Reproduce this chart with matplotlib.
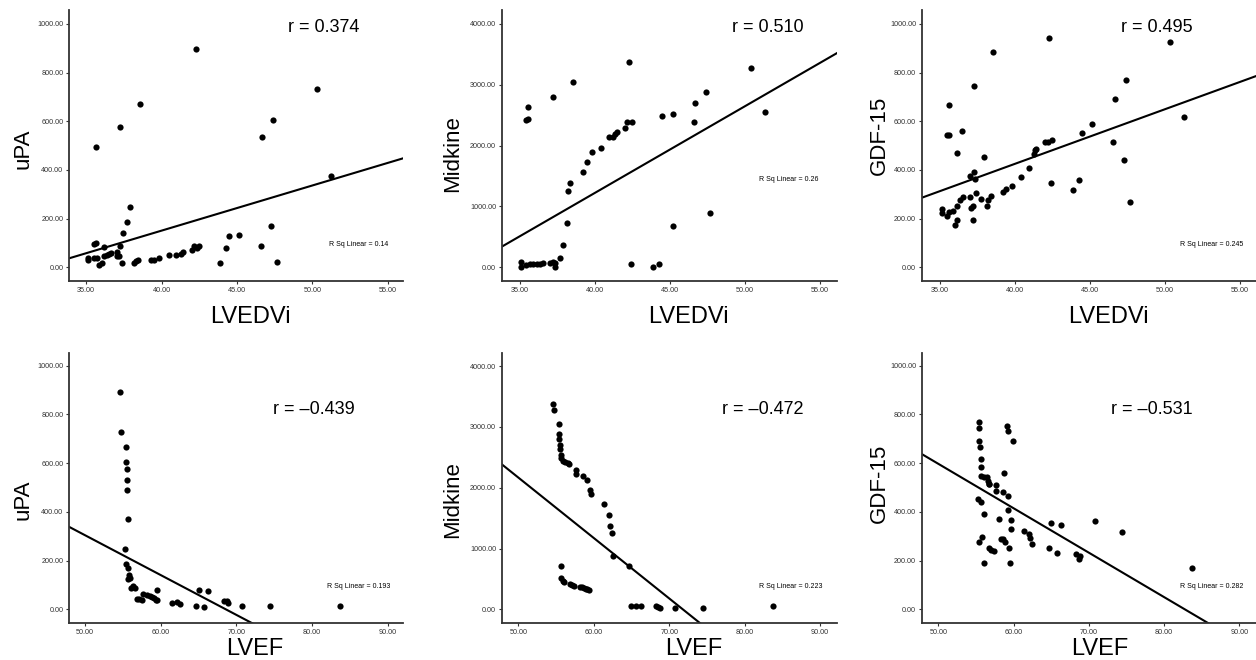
import numpy as np
import matplotlib
matplotlib.use("Agg")
import matplotlib.pyplot as plt
from matplotlib.ticker import FormatStrFormatter

plt.rcParams['font.family'] = ['Liberation Sans', 'DejaVu Sans']

# ---------------- data ----------------
upa_lvedvi_x = [35.64, 35.53, 35.66, 35.15, 35.15, 35.55, 35.70, 35.86, 36.06, 36.19, 36.19, 36.37,
                36.55, 36.68, 37.03, 37.07, 37.20, 37.25, 37.27, 37.38, 37.45, 37.72, 37.94, 38.18,
                38.29, 38.42, 38.55, 39.28, 39.48, 39.86, 40.47, 40.96, 41.29, 41.45, 42.02, 42.17,
                42.37, 42.48, 42.31, 43.87, 44.29, 44.47, 45.15, 46.57, 46.66, 47.27, 47.38, 47.65,
                50.32, 51.25]
upa_lvedvi_y = [494, 95, 99, 40, 30, 40, 40, 10, 16, 82, 47, 49,
                53, 59, 62, 45, 45, 88, 578, 19, 141, 188, 248, 19,
                26, 30, 670, 30, 30, 40, 49, 49, 55, 62, 70, 89,
                81, 89, 897, 18, 81, 127, 132, 88, 534, 171, 604, 23,
                733, 375]

mk_lvedvi_x = [35.56, 35.40, 35.56, 35.07, 35.07, 35.40, 35.67, 35.89, 36.11, 36.33, 36.56, 37.00,
               37.18, 37.33, 37.33, 37.67, 37.89, 38.11, 37.22, 38.51, 38.20, 38.36, 39.22, 39.44,
               39.80, 40.42, 40.91, 41.18, 41.31, 41.44, 42.00, 42.16, 42.49, 42.27, 42.38, 43.89,
               44.27, 44.47, 45.18, 45.18, 46.56, 46.67, 47.40, 47.67, 50.36, 51.29]
mk_lvedvi_y = [2641, 2416, 2433, 88, 11, 33, 49, 55, 60, 60, 71, 66,
               88, 66, 11, 159, 367, 723, 2805, 3046, 1260, 1381, 1562, 1726,
               1901, 1956, 2137, 2137, 2192, 2230, 2290, 2394, 2394, 3375, 49, 11,
               49, 2482, 2521, 679, 2394, 2696, 2882, 899, 3277, 2548]

gdf_lvedvi_x = [35.11, 35.11, 35.44, 35.60, 35.84, 35.44, 35.58, 35.58, 36.02, 36.11, 36.11, 36.16,
                36.33, 36.56, 36.44, 37.02, 37.02, 37.07, 37.22, 37.22, 37.24, 37.27, 37.33, 37.40,
                37.71, 37.91, 38.11, 38.22, 38.38, 38.51, 39.24, 39.42, 39.82, 40.44, 40.93, 41.27,
                41.36, 41.44, 42.04, 42.22, 42.49, 42.27, 42.38, 43.89, 44.27, 44.47, 45.18, 46.58,
                46.67, 47.29, 47.40, 47.67, 50.36, 51.29]
gdf_lvedvi_y = [240, 222, 210, 229, 232, 544, 544, 668, 173, 193, 252, 468,
                275, 288, 560, 375, 290, 242, 251, 193, 745, 392, 364, 304,
                279, 452, 252, 275, 293, 884, 311, 321, 333, 371, 410, 467,
                482, 488, 514, 516, 523, 944, 348, 318, 358, 551, 589, 516,
                693, 441, 770, 270, 926, 619]

upa_lvef_x = [54.63, 54.76, 55.42, 55.42, 55.51, 55.51, 55.55, 55.73, 55.33, 55.46, 55.68, 55.86,
              55.95, 55.73, 56.08, 56.30, 56.61, 56.83, 57.18, 57.49, 57.71, 58.15, 58.59, 58.85,
              59.12, 59.34, 59.56, 59.47, 61.45, 62.20, 62.56, 64.71, 65.02, 65.73, 66.30, 68.33,
              68.72, 68.94, 70.79, 74.41, 83.66]
upa_lvef_y = [893, 730, 667, 603, 577, 532, 492, 371, 247, 185, 170, 141,
              127, 123, 86, 96, 86, 42, 41, 38, 64, 60, 56, 51,
              45, 38, 38, 79, 27, 29, 22, 16, 79, 10, 74, 36,
              36, 27, 16, 16, 16]

mk_lvef_x = [54.56, 54.69, 55.35, 55.40, 55.40, 55.49, 55.49, 55.62, 55.66, 55.93, 56.24, 56.55,
             56.73, 57.61, 57.65, 58.54, 59.16, 59.56, 59.65, 61.33, 62.04, 62.17, 62.39, 62.52,
             64.65, 55.71, 55.62, 55.93, 56.11, 56.81, 57.12, 57.39, 58.14, 58.45, 58.72, 58.94,
             59.16, 59.42, 64.91, 65.66, 66.28, 68.23, 68.54, 68.81, 70.80, 74.42, 83.72]
mk_lvef_y = [3375, 3271, 3041, 2882, 2805, 2701, 2636, 2537, 2493, 2444, 2422, 2400,
             2384, 2290, 2225, 2197, 2131, 1956, 1896, 1726, 1556, 1375, 1255, 882,
             718, 718, 510, 471, 444, 411, 400, 389, 373, 362, 351, 340,
             334, 318, 49, 49, 49, 49, 33, 16, 16, 16, 49]

gdf_lvef_x = [55.40, 55.44, 55.44, 55.49, 55.66, 55.66, 55.66, 56.11, 56.42, 56.59, 56.68, 56.77,
              55.31, 55.66, 56.02, 55.80, 55.44, 56.02, 56.68, 57.04, 57.39, 57.70, 57.70, 58.54,
              58.76, 58.10, 58.27, 58.58, 58.89, 59.16, 59.25, 59.20, 59.25, 59.34, 59.47, 59.60,
              59.69, 59.91, 61.37, 62.04, 62.17, 62.48, 64.69, 64.96, 65.71, 66.33, 68.23, 68.76,
              68.72, 70.80, 74.42, 83.72]
gdf_lvef_y = [770, 744, 693, 667, 618, 586, 549, 544, 544, 525, 515, 514,
              452, 440, 390, 299, 277, 190, 252, 244, 240, 511, 486, 481,
              559, 373, 290, 288, 277, 752, 734, 467, 408, 251, 192, 368,
              330, 692, 321, 311, 292, 270, 251, 355, 232, 345, 227, 221,
              207, 363, 316, 171]

# fitted regression lines (slope, intercept)
fit_slope = [18.56, 142.5, 22.39, -16.36, -99.4, -18.24]
fit_intercept = [-591.6, -4475.0, -470.5, 1122.7, 7137.0, 1509.6]

r_labels = ["r = 0.374", "r = 0.510", "r = 0.495", "r = \u20130.439", "r = \u20130.472", "r = \u20130.531"]
rsq_labels = ["R Sq Linear = 0.14", "R Sq Linear = 0.26", "R Sq Linear = 0.245",
              "R Sq Linear = 0.193", "R Sq Linear = 0.223", "R Sq Linear = 0.282"]
y_names = ["uPA", "Midkine", "GDF-15", "uPA", "Midkine", "GDF-15"]
x_names = ["LVEDVi", "LVEDVi", "LVEDVi", "LVEF", "LVEF", "LVEF"]
xs = [upa_lvedvi_x, mk_lvedvi_x, gdf_lvedvi_x, upa_lvef_x, mk_lvef_x, gdf_lvef_x]
ys = [upa_lvedvi_y, mk_lvedvi_y, gdf_lvedvi_y, upa_lvef_y, mk_lvef_y, gdf_lvef_y]
x_ticks_top = [35, 40, 45, 50, 55]
x_ticks_bot = [50, 60, 70, 80, 90]
y_ticks_small = [0, 200, 400, 600, 800, 1000]
y_ticks_big = [0, 1000, 2000, 3000, 4000]

# ---------------- layout ----------------
fig = plt.figure(figsize=(12.56, 6.6), dpi=100)
W, H = 1256, 660
axes_px = [  # left, right, top, bottom in pixels
    (69, 403, 10, 281), (501.7, 836.7, 10, 281), (921.7, 1256, 10, 281),
    (69, 403, 353.3, 623.3), (501.7, 836.7, 353.3, 623.3), (921.7, 1256, 353.3, 623.3)]
xlims = [(33.87, 56.0), (33.78, 56.1), (33.78, 56.1), (47.9, 92.0), (47.8, 92.2), (47.8, 92.2)]
ylims = [(-56, 1057), (-225, 4230), (-56, 1057), (-57, 1051), (-230, 4210), (-57, 1051)]
r_pos = [(0.763, 0.934), (0.795, 0.934), (0.704, 0.934), (0.733, 0.793), (0.778, 0.793), (0.689, 0.793)]
rsq_pos = [(0.868, 0.135), (0.858, 0.373), (0.867, 0.135), (0.868, 0.136), (0.864, 0.136), (0.867, 0.136)]
ylab_pos = [(-0.12, 0.487), (-0.13, 0.472), (-0.11, 0.539), (-0.12, 0.457), (-0.13, 0.46), (-0.11, 0.52)]
xlab_pos = [(0.542, -0.156), (0.556, -0.156), (0.558, -0.156), (0.557, -0.118), (0.573, -0.118), (0.533, -0.118)]

spine_col = "#333333"
for i in range(6):
    l, r, t, b = axes_px[i]
    ax = fig.add_axes([l / W, 1 - b / H, (r - l) / W, (b - t) / H])
    ax.set_xlim(*xlims[i])
    ax.set_ylim(*ylims[i])
    ax.scatter(xs[i], ys[i], s=20, color="black", linewidths=0, zorder=3)
    xl = np.array(xlims[i])
    ax.plot(xl, fit_slope[i] * xl + fit_intercept[i], color="black", lw=1.5, zorder=2)
    ax.set_xticks(x_ticks_top if i < 3 else x_ticks_bot)
    ax.set_yticks(y_ticks_big if i in (1, 4) else y_ticks_small)
    ax.xaxis.set_major_formatter(FormatStrFormatter("%.2f"))
    ax.yaxis.set_major_formatter(FormatStrFormatter("%.2f"))
    ax.tick_params(direction="out", length=2.5, width=0.8, labelsize=5.2, pad=1.5,
                   colors=spine_col)
    for s in ("top", "right"):
        ax.spines[s].set_visible(False)
    for s in ("left", "bottom"):
        ax.spines[s].set_color(spine_col)
        ax.spines[s].set_linewidth(1.3)
    ax.set_xlabel(x_names[i], fontsize=17)
    ax.xaxis.label.set_va("baseline")
    ax.xaxis.set_label_coords(*xlab_pos[i])
    ax.set_ylabel(y_names[i], fontsize=16)
    ax.yaxis.label.set_va("baseline")
    ax.yaxis.set_label_coords(*ylab_pos[i])
    ax.text(r_pos[i][0], r_pos[i][1], r_labels[i], transform=ax.transAxes,
            ha="center", va="center", fontsize=13)
    ax.text(rsq_pos[i][0], rsq_pos[i][1], rsq_labels[i], transform=ax.transAxes,
            ha="center", va="center", fontsize=5)

fig.savefig("out.png", dpi=100)
